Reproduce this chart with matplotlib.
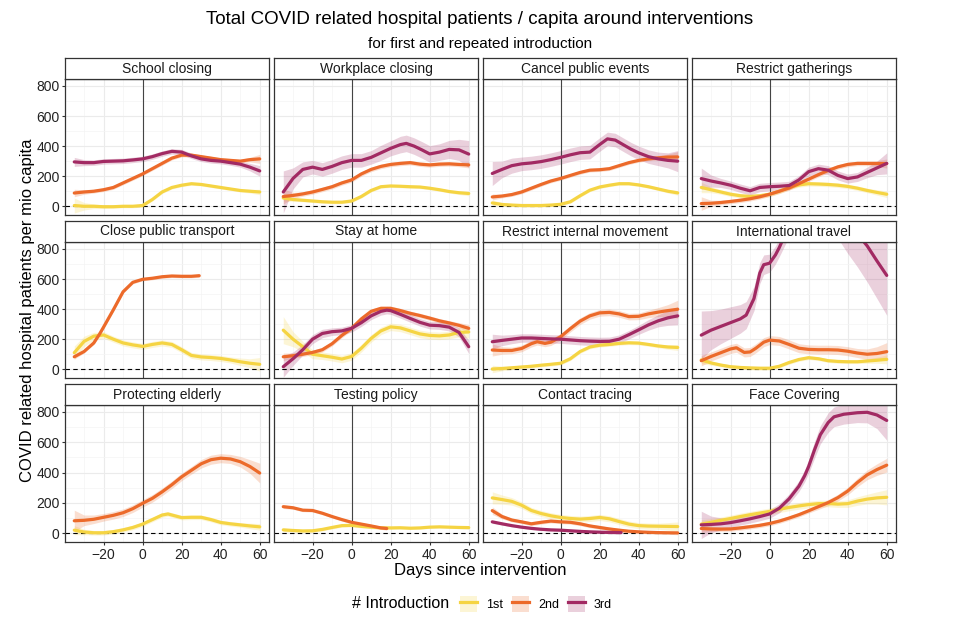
import matplotlib
matplotlib.use('Agg')
import matplotlib.pyplot as plt
from matplotlib.patches import Patch
from matplotlib.lines import Line2D
import numpy as np

plt.rcParams['font.family'] = ['Liberation Sans', 'DejaVu Sans']

# each series: (day since intervention, patients per mio capita, ribbon half width)
school_1st = [(-35, 5, 50), (-30, 0, 25), (-25, 0, 15), (-20, -3, 12), (-15, -3, 10), (-10, 0, 10), (-5, 0, 10),
              (0, 5, 10), (5, 45, 10), (10, 95, 10), (15, 125, 10), (20, 140, 10), (25, 150, 10), (30, 145, 10),
              (35, 135, 10), (40, 125, 10), (45, 115, 10), (50, 105, 10), (55, 100, 12), (60, 95, 18)]
school_2nd = [(-35, 88, 25), (-30, 95, 15), (-25, 100, 12), (-20, 110, 12), (-15, 125, 12), (-10, 155, 12),
              (-5, 185, 12), (0, 215, 12), (5, 250, 12), (10, 285, 12), (15, 320, 12), (20, 340, 12), (25, 340, 12),
              (30, 330, 12), (35, 320, 12), (40, 310, 12), (45, 305, 12), (50, 300, 12), (55, 310, 15), (60, 315, 30)]
school_3rd = [(-35, 295, 30), (-30, 290, 20), (-25, 290, 18), (-20, 298, 18), (-15, 300, 18), (-10, 302, 18),
              (-5, 308, 18), (0, 315, 18), (5, 330, 18), (10, 350, 18), (15, 365, 18), (20, 360, 18), (25, 335, 18),
              (30, 315, 18), (35, 305, 18), (40, 300, 18), (45, 290, 18), (50, 280, 20), (55, 260, 25), (60, 235, 35)]

work_1st = [(-35, 55, 20), (-30, 45, 12), (-25, 40, 10), (-20, 35, 10), (-15, 30, 10), (-10, 27, 10), (-5, 27, 10),
            (0, 35, 10), (5, 65, 10), (10, 105, 10), (15, 130, 10), (20, 135, 10), (25, 133, 10), (30, 130, 10),
            (35, 128, 10), (40, 120, 10), (45, 110, 10), (50, 98, 10), (55, 90, 12), (60, 85, 15)]
work_2nd = [(-35, 65, 50), (-30, 72, 20), (-25, 82, 15), (-20, 95, 15), (-15, 112, 15), (-10, 130, 15), (-5, 155, 15),
            (0, 175, 15), (5, 215, 15), (10, 245, 15), (15, 265, 15), (20, 278, 15), (25, 285, 15), (30, 290, 15),
            (35, 280, 15), (40, 275, 15), (45, 280, 15), (50, 282, 15), (55, 278, 15), (60, 275, 20)]
work_3rd = [(-35, 95, 140), (-30, 185, 70), (-25, 245, 50), (-20, 260, 45), (-15, 245, 45), (-10, 265, 45),
            (-5, 290, 45), (0, 305, 45), (5, 305, 45), (10, 325, 45), (15, 355, 50), (20, 385, 50), (25, 410, 55),
            (28, 418, 55), (32, 400, 55), (36, 375, 55), (40, 348, 55), (45, 360, 55), (50, 378, 60), (55, 375, 70),
            (60, 347, 90)]

cancel_1st = [(-35, 22, 20), (-30, 12, 12), (-25, 8, 10), (-20, 5, 10), (-15, 5, 10), (-10, 5, 10), (-5, 8, 10),
              (0, 13, 10), (5, 30, 10), (10, 70, 10), (15, 107, 10), (20, 128, 10), (25, 140, 10), (30, 150, 10),
              (35, 150, 10), (40, 142, 10), (45, 130, 10), (50, 115, 10), (55, 100, 12), (60, 89, 15)]
cancel_2nd = [(-35, 62, 20), (-30, 68, 12), (-25, 78, 12), (-20, 95, 12), (-15, 120, 12), (-10, 145, 12),
              (-5, 168, 12), (0, 185, 12), (5, 205, 12), (10, 225, 12), (15, 240, 12), (20, 243, 12), (25, 250, 12),
              (30, 270, 12), (35, 290, 12), (40, 305, 12), (45, 315, 12), (50, 322, 15), (55, 327, 20), (60, 328, 35)]
cancel_3rd = [(-35, 218, 80), (-30, 245, 55), (-25, 270, 50), (-20, 282, 45), (-15, 288, 45), (-10, 297, 45),
              (-5, 310, 45), (0, 325, 45), (5, 342, 45), (10, 356, 45), (15, 360, 45), (20, 410, 45), (24, 448, 45),
              (28, 440, 45), (32, 410, 45), (36, 380, 45), (40, 355, 45), (45, 330, 45), (50, 315, 45), (55, 305, 50),
              (60, 300, 70)]

gather_1st = [(-35, 125, 35), (-30, 110, 20), (-25, 95, 15), (-20, 80, 15), (-15, 70, 15), (-10, 65, 15),
              (-5, 70, 15), (0, 80, 15), (5, 100, 15), (10, 125, 15), (15, 142, 15), (20, 150, 15), (25, 148, 15),
              (30, 145, 15), (35, 140, 15), (40, 132, 15), (45, 120, 15), (50, 105, 15), (55, 92, 18), (60, 80, 22)]
gather_2nd = [(-35, 18, 45), (-30, 20, 20), (-25, 25, 15), (-20, 32, 15), (-15, 40, 15), (-10, 50, 15),
              (-5, 63, 15), (0, 80, 15), (5, 100, 15), (10, 122, 15), (15, 150, 15), (20, 180, 15), (25, 210, 15),
              (30, 238, 15), (35, 262, 15), (40, 278, 15), (45, 285, 15), (50, 285, 15), (55, 284, 20), (60, 284, 30)]
gather_3rd = [(-35, 184, 70), (-30, 168, 40), (-25, 155, 30), (-20, 140, 28), (-15, 120, 28), (-10, 103, 28),
              (-5, 125, 28), (0, 130, 28), (5, 133, 28), (10, 138, 28), (15, 175, 28), (20, 230, 30), (25, 250, 30),
              (30, 240, 30), (35, 205, 30), (40, 184, 30), (45, 195, 30), (50, 225, 35), (55, 255, 45), (60, 285, 70)]

pt_1st = [(-35, 110, 45), (-30, 185, 35), (-25, 220, 25), (-20, 228, 22), (-15, 200, 20), (-10, 175, 20),
          (-5, 162, 20), (0, 152, 20), (5, 165, 20), (10, 175, 20), (15, 165, 20), (20, 130, 20), (25, 92, 20),
          (30, 82, 20), (35, 78, 20), (40, 72, 20), (45, 62, 20), (50, 50, 25), (55, 40, 30), (60, 33, 45)]
pt_2nd = [(-35, 83, 15), (-30, 118, 10), (-25, 175, 10), (-22, 235, 10), (-20, 280, 10), (-15, 395, 10),
          (-10, 515, 10), (-5, 578, 10), (0, 598, 10), (5, 605, 10), (10, 615, 10), (15, 620, 10), (20, 618, 10),
          (25, 618, 10), (29, 622, 10)]

sah_1st = [(-35, 260, 90), (-30, 200, 50), (-25, 150, 35), (-20, 100, 30), (-15, 90, 25), (-10, 80, 25),
           (-5, 68, 25), (0, 85, 25), (5, 140, 25), (10, 205, 25), (15, 255, 25), (20, 282, 25), (25, 275, 25),
           (30, 255, 25), (35, 235, 25), (40, 225, 25), (45, 222, 25), (50, 228, 25), (55, 245, 30), (60, 248, 40)]
sah_2nd = [(-35, 83, 25), (-30, 90, 18), (-25, 100, 15), (-20, 112, 15), (-15, 130, 15), (-10, 170, 15),
           (-5, 225, 15), (0, 272, 15), (5, 335, 15), (10, 385, 15), (15, 405, 15), (20, 405, 15), (25, 390, 15),
           (30, 372, 15), (35, 357, 15), (40, 340, 15), (45, 322, 15), (50, 308, 15), (55, 292, 18), (60, 272, 25)]
sah_3rd = [(-35, 17, 70), (-30, 70, 45), (-25, 130, 35), (-20, 200, 30), (-15, 238, 28), (-10, 250, 25),
           (-5, 255, 25), (0, 272, 25), (5, 310, 25), (10, 355, 25), (15, 385, 25), (18, 393, 25), (20, 390, 25),
           (25, 365, 25), (30, 338, 25), (35, 312, 25), (40, 293, 25), (45, 290, 25), (50, 280, 25), (55, 245, 30),
           (60, 150, 45)]

rim_1st = [(-35, 2, 25), (-30, 5, 15), (-25, 10, 12), (-20, 15, 12), (-15, 20, 12), (-10, 27, 12), (-5, 33, 12),
           (0, 40, 12), (5, 70, 12), (10, 118, 12), (15, 148, 12), (20, 160, 12), (25, 165, 12), (30, 172, 12),
           (35, 176, 12), (40, 174, 12), (45, 165, 12), (50, 155, 12), (55, 148, 15), (60, 145, 20)]
rim_2nd = [(-35, 128, 40), (-30, 125, 25), (-25, 125, 22), (-20, 138, 22), (-15, 170, 22), (-12, 183, 22),
           (-8, 172, 22), (-5, 180, 22), (0, 216, 22), (5, 270, 22), (10, 320, 22), (15, 355, 22), (20, 375, 22),
           (25, 378, 22), (30, 368, 22), (35, 350, 22), (40, 352, 22), (45, 368, 25), (50, 380, 30), (55, 390, 40),
           (60, 399, 60)]
rim_3rd = [(-35, 183, 50), (-30, 192, 35), (-25, 200, 30), (-20, 208, 28), (-15, 208, 28), (-10, 205, 28),
           (-5, 202, 28), (0, 200, 28), (5, 195, 28), (10, 190, 28), (15, 187, 28), (20, 185, 28), (25, 186, 28),
           (30, 200, 28), (35, 230, 28), (40, 262, 30), (45, 295, 35), (50, 322, 40), (55, 342, 50), (60, 355, 60)]

it_1st = [(-35, 62, 25), (-30, 42, 15), (-25, 28, 12), (-20, 17, 12), (-15, 12, 12), (-10, 9, 12), (-5, 7, 12),
          (0, 7, 12), (5, 20, 12), (10, 45, 12), (15, 65, 12), (20, 77, 12), (25, 70, 12), (30, 57, 12),
          (35, 52, 12), (40, 50, 12), (45, 50, 12), (50, 55, 15), (55, 60, 20), (60, 66, 30)]
it_2nd = [(-35, 57, 35), (-30, 85, 30), (-25, 110, 30), (-20, 135, 30), (-17, 143, 30), (-13, 112, 30),
          (-10, 115, 30), (-7, 140, 30), (-3, 180, 30), (0, 194, 30), (5, 188, 30), (10, 165, 30), (15, 140, 30),
          (20, 132, 30), (25, 130, 30), (30, 130, 30), (35, 128, 30), (40, 120, 30), (45, 108, 30), (50, 100, 35),
          (55, 105, 45), (60, 117, 60)]
it_3rd = [(-35, 227, 160), (-30, 260, 130), (-25, 285, 115), (-20, 310, 105), (-15, 335, 95), (-12, 360, 90),
          (-8, 470, 80), (-5, 640, 70), (-3, 695, 65), (0, 705, 60), (3, 760, 60), (5, 810, 60), (8, 900, 70),
          (10, 960, 80), (15, 1050, 100), (20, 1100, 120), (25, 1120, 140), (30, 1100, 160), (35, 1050, 180),
          (40, 970, 200), (45, 900, 220), (50, 820, 240), (55, 720, 250), (60, 624, 265)]

pe_1st = [(-35, 20, 30), (-30, 8, 18), (-25, 3, 15), (-20, 3, 15), (-15, 10, 15), (-10, 22, 15), (-5, 38, 15),
          (0, 60, 15), (5, 90, 15), (10, 120, 15), (13, 127, 15), (15, 120, 15), (20, 103, 15), (25, 105, 15),
          (30, 105, 15), (35, 90, 15), (40, 71, 15), (45, 62, 15), (50, 55, 15), (55, 48, 18), (60, 42, 22)]
pe_2nd = [(-35, 82, 70), (-30, 85, 35), (-25, 92, 28), (-20, 105, 25), (-15, 118, 25), (-10, 135, 25),
          (-5, 162, 25), (0, 197, 25), (5, 230, 25), (10, 273, 25), (15, 320, 25), (20, 372, 25), (25, 415, 25),
          (30, 458, 28), (35, 485, 30), (40, 495, 30), (45, 490, 30), (50, 472, 35), (55, 440, 45), (60, 397, 65)]

tp_1st = [(-35, 22, 12), (-30, 18, 10), (-25, 15, 10), (-20, 16, 10), (-15, 25, 10), (-10, 38, 10), (-5, 50, 10),
          (0, 52, 10), (5, 45, 10), (10, 40, 10), (15, 36, 10), (20, 35, 8), (25, 36, 8), (30, 33, 8), (35, 35, 8),
          (40, 40, 8), (45, 42, 8), (50, 40, 8), (55, 38, 8), (60, 37, 10)]
tp_2nd = [(-35, 175, 12), (-30, 168, 10), (-25, 152, 10), (-20, 150, 10), (-15, 132, 10), (-10, 110, 10),
          (-5, 90, 10), (0, 72, 10), (5, 60, 10), (10, 48, 10), (15, 35, 10), (18, 31, 10)]

ct_1st = [(-35, 233, 40), (-30, 222, 30), (-25, 210, 25), (-20, 185, 22), (-15, 150, 20), (-10, 130, 20),
          (-5, 115, 20), (0, 104, 20), (5, 97, 20), (10, 93, 20), (15, 97, 20), (20, 104, 20), (25, 95, 20),
          (30, 77, 20), (35, 60, 20), (40, 50, 20), (45, 47, 20), (50, 46, 20), (55, 45, 25), (60, 44, 30)]
ct_2nd = [(-35, 149, 25), (-30, 110, 15), (-25, 87, 12), (-20, 75, 12), (-15, 62, 12), (-10, 72, 12), (-5, 80, 12),
          (0, 75, 12), (5, 72, 12), (10, 62, 12), (15, 48, 12), (20, 38, 12), (25, 28, 12), (30, 20, 12),
          (35, 13, 10), (40, 9, 10), (45, 6, 10), (50, 4, 10), (55, 3, 10), (60, 2, 12)]
ct_3rd = [(-35, 75, 10), (-30, 62, 8), (-25, 50, 8), (-20, 40, 8), (-15, 32, 8), (-10, 26, 8), (-5, 22, 8),
          (0, 20, 8), (5, 16, 8), (10, 12, 8), (15, 9, 8), (20, 7, 8), (25, 5, 8), (31, 4, 8)]

fc_1st = [(-35, 60, 30), (-30, 72, 25), (-25, 85, 22), (-20, 97, 22), (-15, 110, 22), (-10, 122, 22),
          (-5, 133, 22), (0, 144, 22), (5, 158, 22), (10, 170, 22), (15, 180, 22), (20, 189, 22), (25, 195, 22),
          (30, 196, 22), (35, 192, 22), (40, 195, 25), (45, 212, 28), (50, 225, 32), (55, 233, 40), (60, 237, 50)]
fc_2nd = [(-35, 31, 25), (-30, 28, 18), (-25, 27, 15), (-20, 28, 15), (-15, 35, 15), (-10, 43, 15), (-5, 52, 15),
          (0, 64, 15), (5, 80, 15), (10, 100, 15), (15, 122, 15), (20, 148, 15), (25, 175, 18), (30, 202, 20),
          (35, 235, 22), (40, 278, 25), (45, 335, 28), (50, 385, 32), (55, 420, 38), (60, 449, 45)]
fc_3rd = [(-35, 55, 90), (-30, 58, 55), (-25, 62, 40), (-20, 70, 30), (-15, 82, 28), (-10, 95, 28),
          (-5, 110, 28), (0, 127, 28), (5, 165, 30), (10, 227, 32), (15, 310, 35), (18, 380, 40), (20, 440, 45),
          (23, 550, 55), (26, 650, 60), (30, 730, 65), (33, 768, 65), (38, 785, 65), (45, 795, 65), (50, 798, 70),
          (55, 780, 90), (60, 744, 130)]

panels = [
    ('School closing', school_1st, school_2nd, school_3rd),
    ('Workplace closing', work_1st, work_2nd, work_3rd),
    ('Cancel public events', cancel_1st, cancel_2nd, cancel_3rd),
    ('Restrict gatherings', gather_1st, gather_2nd, gather_3rd),
    ('Close public transport', pt_1st, pt_2nd, None),
    ('Stay at home', sah_1st, sah_2nd, sah_3rd),
    ('Restrict internal movement', rim_1st, rim_2nd, rim_3rd),
    ('International travel', it_1st, it_2nd, it_3rd),
    ('Protecting elderly', pe_1st, pe_2nd, None),
    ('Testing policy', tp_1st, tp_2nd, None),
    ('Contact tracing', ct_1st, ct_2nd, ct_3rd),
    ('Face Covering', fc_1st, fc_2nd, fc_3rd),
]
intro_labels = ['1st', '2nd', '3rd']
colors = ['#F5D443', '#EC6A2A', '#A22A63']

W, H = 960, 640
fig = plt.figure(figsize=(W / 100, H / 100), dpi=100)

lefts = [65, 274, 483, 692]
pw = 204
rows = [(79, 215), (242, 378), (405, 542)]
strip_h = 21
frame_col = '#333333'

for i, (title, *series) in enumerate(panels):
    r, c = divmod(i, 4)
    top, bot = rows[r]
    ax = fig.add_axes([lefts[c] / W, 1 - bot / H, pw / W, (bot - top) / H])

    # ribbons first, lines on top
    for s, col in zip(series, colors):
        if s is None:
            continue
        d = np.array(s, dtype=float)
        ax.fill_between(d[:, 0], d[:, 1] - d[:, 2], d[:, 1] + d[:, 2], color=col, alpha=0.22, lw=0)
    for s, col in zip(series, colors):
        if s is None:
            continue
        d = np.array(s, dtype=float)
        ax.plot(d[:, 0], d[:, 1], color=col, lw=2.3, solid_capstyle='round', zorder=3)

    ax.axvline(0, color='#444444', lw=0.8, zorder=2)
    ax.axhline(0, color='black', lw=0.8, ls=(0, (4, 3)), zorder=2)

    ax.set_xlim(-39.75, 64.75)
    ax.set_ylim(-58, 846)
    ax.set_xticks([-20, 0, 20, 40, 60])
    ax.set_xticks([-30, -10, 10, 30, 50], minor=True)
    ax.set_yticks([0, 200, 400, 600, 800])
    ax.set_yticks([100, 300, 500, 700], minor=True)
    ax.grid(True, which='major', color='#EBEBEB', lw=0.8)
    ax.grid(True, which='minor', color='#F4F4F4', lw=0.5)
    ax.set_axisbelow(True)
    ax.tick_params(which='minor', length=0)
    ax.tick_params(which='major', length=2.5, color=frame_col, labelsize=10, labelcolor='#222222', pad=1.5)
    for sp in ax.spines.values():
        sp.set_color(frame_col)
        sp.set_linewidth(0.9)
    if c != 0:
        ax.tick_params(axis='y', labelleft=False, length=0)
    if r != 2:
        ax.tick_params(axis='x', labelbottom=False, length=0)

    # facet strip
    sax = fig.add_axes([lefts[c] / W, 1 - top / H, pw / W, strip_h / H])
    sax.set_xticks([])
    sax.set_yticks([])
    for sp in sax.spines.values():
        sp.set_color(frame_col)
        sp.set_linewidth(0.9)
    sax.text(0.5, 0.5, title, ha='center', va='center', fontsize=10, color='#1A1A1A')

fig.text(0.5, 1 - 20 / H, 'Total COVID related hospital patients / capita around interventions',
         ha='center', va='center', fontsize=13.5)
fig.text(0.5, 1 - 44 / H, 'for first and repeated introduction', ha='center', va='center', fontsize=11)
fig.text(0.5, 1 - 570 / H, 'Days since intervention', ha='center', va='center', fontsize=12)
fig.text(28 / W, 1 - 310 / H, 'COVID related hospital patients per mio capita', ha='center', va='center',
         rotation=90, fontsize=12)

# legend
fig.text(401 / W, 1 - 604 / H, '# Introduction', ha='center', va='center', fontsize=11.5)
handles = [(Patch(facecolor=col, alpha=0.22, lw=0), Line2D([], [], color=col, lw=2.3)) for col in colors]
fig.legend(handles, intro_labels, ncol=3, loc='center', bbox_to_anchor=(536 / W, 1 - 604 / H), frameon=False,
           fontsize=9, handlelength=1.4, handleheight=1.5, columnspacing=0.7, handletextpad=0.7,
           borderpad=0.2, borderaxespad=0)

fig.savefig('out.png', dpi=100)
